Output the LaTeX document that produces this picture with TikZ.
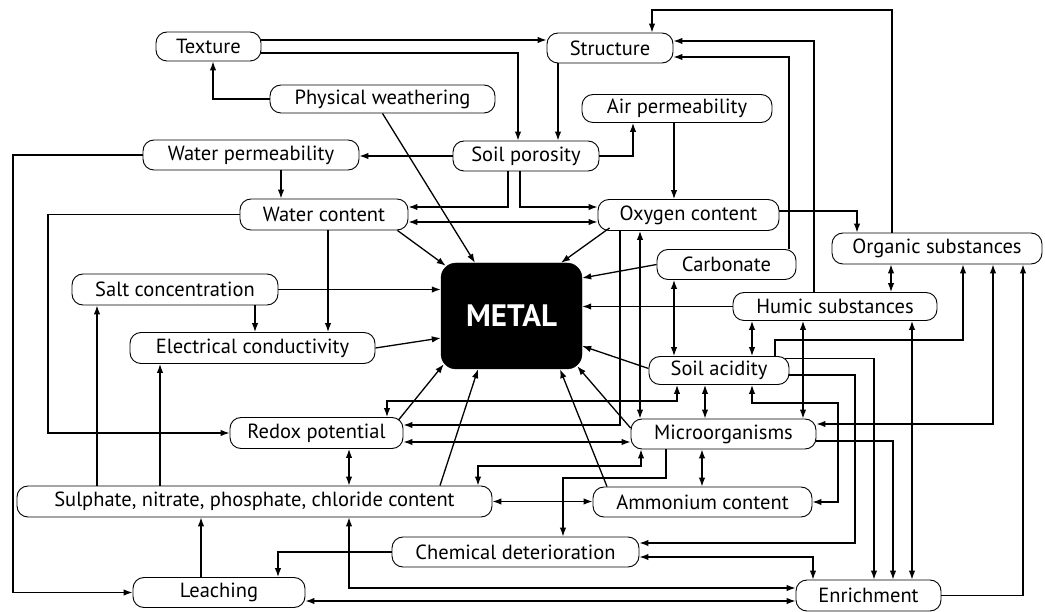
\documentclass[tikz,border=0pt]{standalone}
\usepackage{fontspec}
\setmainfont{PT Sans}
\usetikzlibrary{arrows.meta}
\begin{document}
\begin{tikzpicture}[x=1pt,y=-1pt,
  box/.style={draw, line width=0.9pt, rounded corners=11pt, minimum height=30pt, inner sep=0pt, font=\fontsize{20.5}{22}\selectfont},
  metalbox/.style={draw, fill=black, rounded corners=15pt, inner sep=0pt, text=white, font=\fontsize{31}{34}\selectfont\bfseries},
  arr/.style={line width=1.3pt, -{Latex[length=9pt,width=6.5pt]}},
  darr/.style={line width=1.3pt, {Latex[length=9pt,width=6.5pt]}-{Latex[length=9pt,width=6.5pt]}}]
\useasboundingbox (0,0) rectangle (1045,612);
\fill[white] (0,0) rectangle (1045,612);

% nodes
\node[box, minimum width=105pt, minimum height=29pt] (tex) at (208.5,46.5) {Texture};
\node[box, minimum width=126pt] (str) at (610,48) {Structure};
\node[box, minimum width=225pt, minimum height=28pt] (pw) at (382.5,99) {Physical weathering};
\node[box, minimum width=190pt, minimum height=28pt] (ap) at (677,108.5) {Air permeability};
\node[box, minimum width=216pt] (wp) at (251,155) {Water permeability};
\node[box, minimum width=146pt] (sp) at (526,156) {Soil porosity};
\node[box, minimum width=168pt, minimum height=31pt] (wc) at (324,214.5) {Water content};
\node[box, minimum width=181pt, minimum height=31pt] (oc) at (688.5,215) {Oxygen content};
\node[box, minimum width=210pt, minimum height=31pt] (os) at (937,248.5) {Organic substances};
\node[box, minimum width=139pt] (car) at (726.5,264.5) {Carbonate};
\node[metalbox, minimum width=141pt, minimum height=106pt] (metal) at (511.5,316) {METAL};
\node[box, minimum width=206pt, minimum height=31pt] (sc) at (175,289.5) {Salt concentration};
\node[box, minimum width=204pt, minimum height=28pt] (hs) at (835,306.5) {Humic substances};
\node[box, minimum width=245pt, minimum height=31pt] (ec) at (252.5,348) {Electrical conductivity};
\node[box, minimum width=140pt, minimum height=28pt] (sa) at (719,370.5) {Soil acidity};
\node[box, minimum width=173pt, minimum height=31pt] (rp) at (316.5,433) {Redox potential};
\node[box, minimum width=185pt] (mo) at (723.5,434) {Microorganisms};
\node[box, minimum width=475pt, minimum height=31pt] (sul) at (254.5,501.5) {Sulphate, nitrate, phosphate, chloride content};
\node[box, minimum width=219pt] (am) at (702.5,502) {Ammonium content};
\node[box, minimum width=247pt] (cd) at (515.5,552) {Chemical deterioration};
\node[box, minimum width=172pt] (le) at (219,592.5) {Leaching};
\node[box, minimum width=145pt, minimum height=31pt] (en) at (868.5,595.5) {Enrichment};

% connectors
\draw[arr] ([yshift=6.5pt]tex.east) -- ([yshift=8pt]str.west);
\draw[arr] ([yshift=-6.5pt]tex.east) -| (sp.north -| 518,0);
\draw[arr] (str.south -| 558,0) -- (sp.north -| 558,0);
\draw[arr] (pw.west) -| (tex.south -| 213,0);
\draw[arr] (pw.south) -- (metal.north -| 475,0);
\draw[arr] (sp.west) -- (sp.west -| wp.east);
\draw[arr] (sp.east) -| (ap.south -| 633,0);
\draw[arr] (ap.south -| 674,0) -- (oc.north -| 674,0);
\draw[arr] (sp.south -| 508,0) |- ([yshift=7.5pt]wc.east);
\draw[arr] (sp.south -| 520,0) |- ([yshift=8pt]oc.west);
\draw[darr] ([yshift=-7.5pt]wc.east) -- ([yshift=-7pt]oc.west);
\draw[arr] (wp.south -| 281,0) -- (wc.north -| 281,0);
\draw[arr] (wp.west) -- (wp.west -| 13,0) |- (le.west);
\draw[arr] (wc.west) -- (wc.west -| 48,0) |- (rp.west);
\draw[arr] ([xshift=-11pt]wc.south east) -- ([xshift=5pt,yshift=-3pt]metal.north west);
\draw[arr] (wc.south -| 328,0) -- (ec.north -| 328,0);
\draw[arr] (sc.east) -- (sc.east -| metal.west);
\draw[arr] (sc.south -| 255,0) -- (ec.north -| 255,0);
\draw[arr] (ec.east) -- ([yshift=-22pt]metal.west);
\draw[arr] ([xshift=12pt,yshift=3pt]oc.south west) -- (metal.north -| 561,0);
\draw[arr] (car.west) -- ([yshift=38pt]metal.east);
\draw[arr] (car.north -| 789,0) |- ([yshift=-9pt]str.east);
\draw[arr] (hs.north -| 814,0) |- ([yshift=7pt]str.east);
\draw[arr] (os.north -| 892,0) -- (892,10) -| (str.north -| 652,0);
\draw[arr] ([yshift=4pt]oc.east) -| (os.north -| 857,0);
\draw[arr] (hs.west) -- (hs.west -| metal.east);
\draw[arr] ([yshift=2pt]sa.west) -- ([yshift=-30pt]metal.east);
\draw[darr] (car.south -| 674,0) -- (sa.north -| 674,0);
\draw[darr] (hs.south -| 752,0) -- (sa.north -| 752,0);
\draw[darr] (os.south -| 891,0) -- (hs.north -| 891,0);
\draw[darr] (oc.south -| 640,0) -- (mo.north -| 640,0);
\draw[arr] (oc.south -| 620,0) |- ([yshift=8pt]rp.east);
\draw[darr] ([yshift=-9pt]rp.east) -- ([yshift=-9pt]rp.east -| mo.west);
\draw[darr] (rp.north -| 387,0) -- (387,401) -| (sa.south -| 677,0);
\draw[arr] ([xshift=-5pt,yshift=-3pt]rp.north east) -- ([xshift=3pt,yshift=5pt]metal.south west);
\draw[arr] (sul.north -| 440,0) -- (metal.south -| 478,0);
\draw[arr] (am.north -| 607,0) -- (metal.south -| 560,0);
\draw[arr] ([yshift=6pt]mo.west) -- ([xshift=-5pt,yshift=3pt]metal.south east);
\draw[darr] (sa.south -| 705,0) -- (mo.north -| 705,0);
\draw[darr] (hs.south -| 803,0) -- (mo.north -| 803,0);
\draw[arr] (sa.north -| 775,0) -- (775,340) -| (os.south -| 963,0);
\draw[arr] ([xshift=-4pt,yshift=-2.5pt]sa.north east) -| (en.north -| 874,0);
\draw[arr] ([yshift=-4.5pt]sa.east) -- (855,375) |- ([yshift=9pt]cd.east);
\draw[darr] (sa.south -| 752,0) |- (838,403) |- (am.east);
\draw[arr] ([yshift=-7pt]mo.east) -| (en.north -| 893,0);
\draw[darr] (hs.south -| 912,0) -- (en.north -| 912,0);
\draw[darr] (os.south -| 993,0) |- ([yshift=10pt]mo.east);
\draw[arr] (en.east) -| (os.south -| 1023,0);
\draw[arr] (mo.south -| 666,0) -- (666,478) -| (cd.north -| 563,0);
\draw[darr] (sul.north -| 478,0) -- (478,466) -| (mo.south -| 641,0);
\draw[darr] (sul.east) -- (sul.east -| am.west);
\draw[darr] (mo.south -| 702,0) -- (am.north -| 702,0);
\draw[darr] (rp.south -| 349,0) -- (sul.north -| 349,0);
\draw[darr] (sul.south -| 349,0) |- ([yshift=7.5pt]en.west);
\draw[darr] ([yshift=-8.5pt]le.east) -- ([yshift=-8.5pt]le.east -| en.west);
\draw[darr] ([yshift=-5pt]cd.east) -| (en.north -| 813,0);
\draw[arr] (cd.west) -| (le.north -| 278,0);
\draw[arr] (le.north -| 201,0) -- (sul.south -| 201,0);
\draw[arr] (sul.north -| 97,0) -- (sc.south -| 97,0);
\draw[arr] (sul.north -| 160,0) -- (ec.south -| 160,0);
\end{tikzpicture}
\end{document}
